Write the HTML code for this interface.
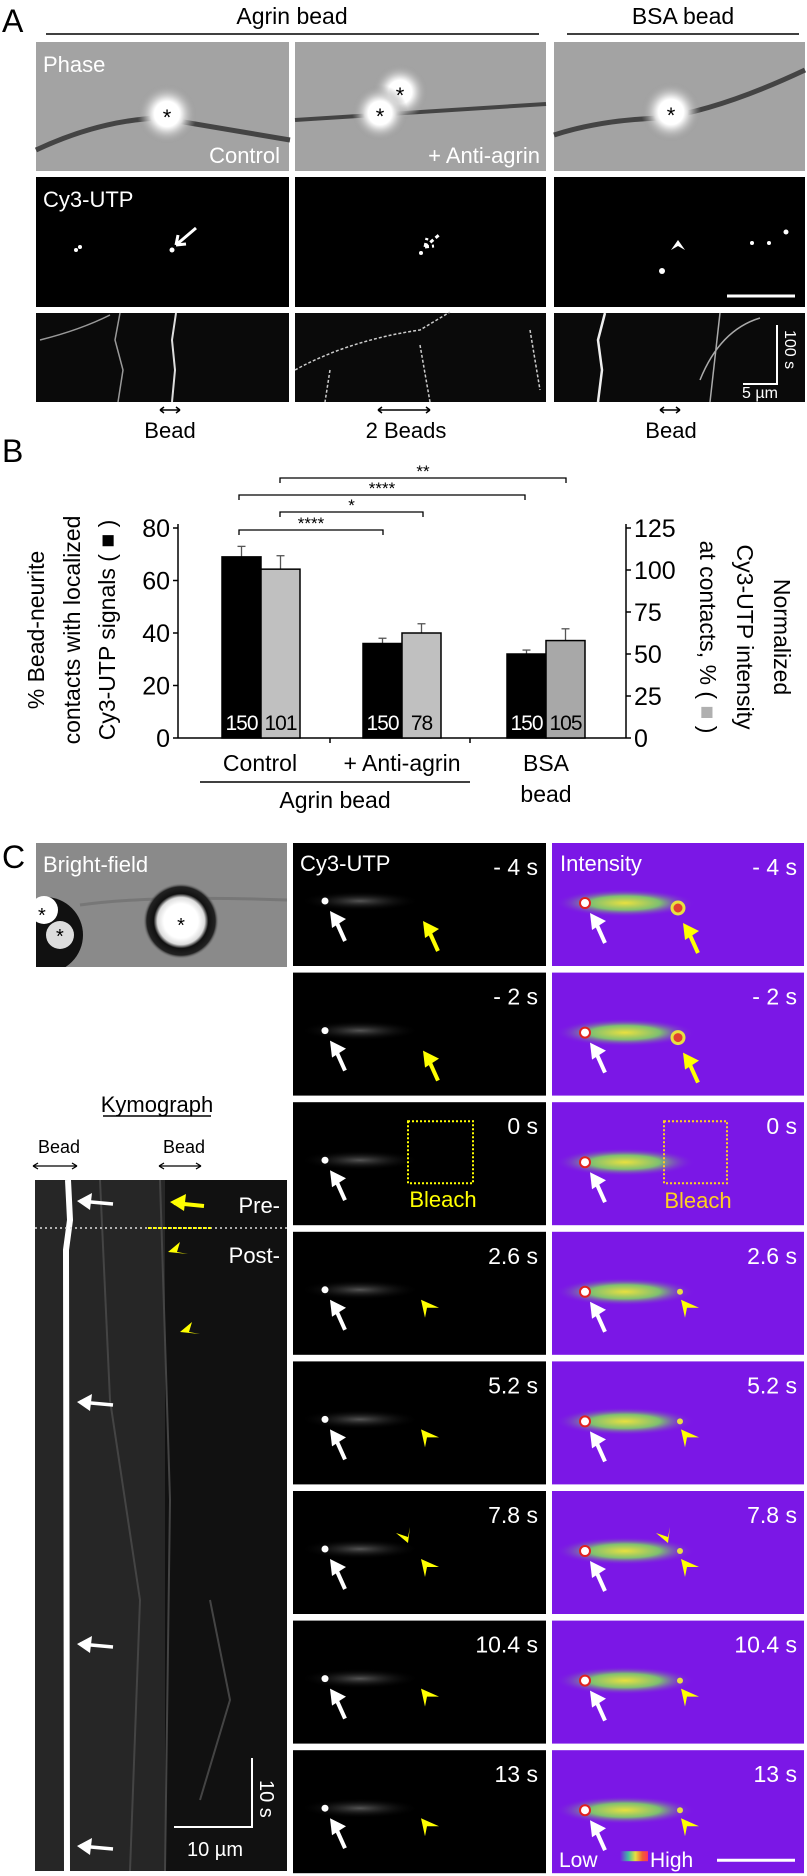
<!DOCTYPE html>
<html><head><meta charset="utf-8"><style>
html,body{margin:0;padding:0;background:#fff;}
svg{display:block;font-family:"Liberation Sans","DejaVu Sans",Arial,sans-serif;}
</style></head><body>
<svg id="fig" width="807" height="1876" viewBox="0 0 807 1876" xmlns="http://www.w3.org/2000/svg">
<defs>
<radialGradient id="halo"><stop offset="0.42" stop-color="#fff"/><stop offset="0.55" stop-color="#ddd"/><stop offset="0.75" stop-color="#bbb" stop-opacity="0.6"/><stop offset="1" stop-color="#999" stop-opacity="0"/></radialGradient>
<radialGradient id="bfbead"><stop offset="0.45" stop-color="#fff"/><stop offset="0.62" stop-color="#ddd"/><stop offset="0.72" stop-color="#111"/><stop offset="0.9" stop-color="#222"/><stop offset="1" stop-color="#8a8a8a" stop-opacity="0"/></radialGradient>
<radialGradient id="glow"><stop offset="0" stop-color="#555"/><stop offset="1" stop-color="#000" stop-opacity="0"/></radialGradient>
<radialGradient id="heat"><stop offset="0" stop-color="#e8e040"/><stop offset="0.5" stop-color="#7fc070"/><stop offset="1" stop-color="#7b17e6" stop-opacity="0"/></radialGradient>
<linearGradient id="cbar"><stop offset="0" stop-color="#7b17e6"/><stop offset="0.3" stop-color="#40c0a0"/><stop offset="0.55" stop-color="#e8e040"/><stop offset="0.8" stop-color="#f06030"/><stop offset="1" stop-color="#ff3060"/></linearGradient>
<clipPath id="bfclip"><rect x="36" y="843" width="251" height="124"/></clipPath>
</defs>

<!-- Panel A -->
<text x="2" y="32" font-size="32">A</text>
<text x="292" y="24" font-size="23" text-anchor="middle">Agrin bead</text>
<line x1="46" y1="34" x2="539" y2="34" stroke="#000" stroke-width="1.5"/>
<text x="683" y="24" font-size="23" text-anchor="middle">BSA bead</text>
<line x1="567" y1="34" x2="799" y2="34" stroke="#000" stroke-width="1.5"/>

<g>
<rect x="36" y="42" width="253" height="129" fill="#a3a3a3"/>
<path d="M36 150 Q100 120 160 118 L290 140" stroke="#444" stroke-width="5" fill="none"/>
<circle cx="167" cy="114" r="30" fill="url(#halo)"/>
<text x="167" y="125" font-size="22" text-anchor="middle">*</text>
<text x="43" y="72" font-size="22" fill="#fff">Phase</text>
<text x="280" y="163" font-size="22" fill="#fff" text-anchor="end">Control</text>
<rect x="295" y="42" width="251" height="129" fill="#a3a3a3"/>
<path d="M295 120 L546 104" stroke="#444" stroke-width="4" fill="none"/>
<circle cx="400" cy="92" r="28" fill="url(#halo)"/>
<circle cx="380" cy="113" r="28" fill="url(#halo)"/>
<text x="400" y="103" font-size="22" text-anchor="middle">*</text>
<text x="380" y="124" font-size="22" text-anchor="middle">*</text>
<text x="540" y="163" font-size="22" fill="#fff" text-anchor="end">+ Anti-agrin</text>
<rect x="554" y="42" width="251" height="129" fill="#a3a3a3"/>
<path d="M554 135 Q600 120 660 118 Q720 110 805 70" stroke="#444" stroke-width="5" fill="none"/>
<circle cx="671" cy="112" r="30" fill="url(#halo)"/>
<text x="671" y="123" font-size="22" text-anchor="middle">*</text>
</g>

<g>
<rect x="36" y="177" width="253" height="130" fill="#000"/>
<rect x="295" y="177" width="251" height="130" fill="#000"/>
<rect x="554" y="177" width="251" height="130" fill="#000"/>
<text x="43" y="207" font-size="22" fill="#fff">Cy3-UTP</text>
<circle cx="76" cy="250" r="2" fill="#fff"/><circle cx="80" cy="247" r="2" fill="#fff"/><circle cx="172" cy="250" r="2.5" fill="#fff"/>
<path d="M176 245 L196 228 M176 245 L178 235 M176 245 L186 244" stroke="#fff" stroke-width="3" fill="none"/>
<circle cx="421" cy="253" r="2" fill="#fff"/>
<path d="M425 247 L440 234 M425 247 L427 238 M425 247 L434 246" stroke="#fff" stroke-width="3" stroke-dasharray="4 3" fill="none"/>
<circle cx="662" cy="271" r="3" fill="#fff"/><circle cx="769" cy="243" r="2" fill="#fff"/><circle cx="786" cy="232" r="2.5" fill="#fff"/><circle cx="752" cy="243" r="2" fill="#fff"/>
<path d="M671 250 L678 240 L685 250 L678 246 Z" fill="#fff"/>
<line x1="727" y1="296" x2="795" y2="296" stroke="#fff" stroke-width="3"/>
</g>

<g>
<rect x="36" y="313" width="253" height="89" fill="#0a0a0a"/>
<rect x="295" y="313" width="251" height="89" fill="#0a0a0a"/>
<rect x="554" y="313" width="251" height="89" fill="#0a0a0a"/>
<path d="M176 313 L172 340 L175 370 L172 402" stroke="#ddd" stroke-width="2" fill="none"/>
<path d="M120 313 L115 340 L123 370 L118 402 M40 340 Q80 330 110 315" stroke="#999" stroke-width="1.5" fill="none"/>
<path d="M295 370 Q350 340 420 330 L450 312 M330 370 L325 402 M420 345 L430 402 M530 330 L540 390" stroke="#ccc" stroke-width="1.5" stroke-dasharray="3 2" fill="none"/>
<path d="M605 313 L598 340 L602 370 L598 402" stroke="#eee" stroke-width="2.5" fill="none"/>
<path d="M700 380 Q720 330 760 318 M720 313 L710 402" stroke="#aaa" stroke-width="1.5" fill="none"/>
<path d="M777 325 L777 384 L743 384" stroke="#fff" stroke-width="2" fill="none"/>
<text x="0" y="0" font-size="16" fill="#fff" transform="translate(785,330) rotate(90)">100 s</text>
<text x="760" y="398" font-size="16" fill="#fff" text-anchor="middle">5 µm</text>
</g>

<g font-size="22" text-anchor="middle">
<text x="170" y="438">Bead</text><text x="406" y="438">2 Beads</text><text x="671" y="438">Bead</text>
<path d="M160 410 L180 410 M160 410 l4 -3 M160 410 l4 3 M180 410 l-4 -3 M180 410 l-4 3" stroke="#000" stroke-width="1.5"/>
<path d="M378 410 L430 410 M378 410 l4 -3 M378 410 l4 3 M430 410 l-4 -3 M430 410 l-4 3" stroke="#000" stroke-width="1.5"/>
<path d="M660 410 L680 410 M660 410 l4 -3 M660 410 l4 3 M680 410 l-4 -3 M680 410 l-4 3" stroke="#000" stroke-width="1.5"/>
</g>

<!-- Panel B -->
<text x="2" y="462" font-size="32">B</text>
<g id="chart"></g>
<g font-size="23" text-anchor="middle">
<text transform="translate(44,630) rotate(-90)">% Bead-neurite</text>
<text transform="translate(80,630) rotate(-90)">contacts with localized</text>
<text transform="translate(115,630) rotate(-90)">Cy3-UTP signals ( ■ )</text>
</g>
<g font-size="23" text-anchor="middle">
<text transform="translate(774,637) rotate(90)">Normalized</text>
<text transform="translate(737,637) rotate(90)">Cy3-UTP intensity</text>
<text transform="translate(700,637) rotate(90)">at contacts, % ( <tspan fill="#b0b0b0">■</tspan> )</text>
</g>
<g font-size="23" text-anchor="middle">
<text x="260" y="771">Control</text>
<text x="402" y="771">+ Anti-agrin</text>
<text x="546" y="771">BSA</text>
<text x="546" y="802">bead</text>
<line x1="200" y1="782" x2="470" y2="782" stroke="#000" stroke-width="1.5"/>
<text x="335" y="808">Agrin bead</text>
</g>

<!-- Panel C -->
<text x="2" y="868" font-size="32">C</text>
<g>
<g clip-path="url(#bfclip)">
<rect x="36" y="843" width="251" height="124" fill="#8a8a8a"/>
<path d="M80 905 Q150 895 287 900" stroke="#777" stroke-width="3" fill="none"/>
<circle cx="45" cy="935" r="38" fill="#111"/>
<circle cx="44" cy="910" r="14" fill="#fff"/>
<circle cx="60" cy="935" r="14" fill="#ddd"/>
<circle cx="181" cy="921" r="38" fill="url(#bfbead)"/>
<text x="38" y="922" font-size="20">*</text><text x="56" y="943" font-size="20">*</text><text x="181" y="932" font-size="20" text-anchor="middle">*</text>
</g>
<text x="43" y="872" font-size="22" fill="#fff">Bright-field</text>
</g>
<g id="rows"></g>

<g>
<text x="157" y="1112" font-size="22" text-anchor="middle">Kymograph</text>
<line x1="103" y1="1116" x2="211" y2="1116" stroke="#000" stroke-width="1.5"/>
<text x="59" y="1153" font-size="18" text-anchor="middle">Bead</text>
<text x="184" y="1153" font-size="18" text-anchor="middle">Bead</text>
<path d="M33 1166 L77 1166 M33 1166 l5 -3 M33 1166 l5 3 M77 1166 l-5 -3 M77 1166 l-5 3" stroke="#000" stroke-width="1.3"/>
<path d="M159 1166 L201 1166 M159 1166 l5 -3 M159 1166 l5 3 M201 1166 l-5 -3 M201 1166 l-5 3" stroke="#000" stroke-width="1.3"/>
<rect x="35" y="1180" width="252" height="691" fill="#111"/>
<rect x="35" y="1180" width="130" height="691" fill="#262626"/>
<path d="M100 1180 L110 1400 L140 1600 L130 1871 M160 1180 L170 1500 L165 1871 M210 1600 L230 1700 L200 1800" stroke="#444" stroke-width="2" fill="none"/>
<path d="M68 1180 L70 1220 L66 1250 L67 1871" stroke="#fff" stroke-width="6" fill="none"/>
<line x1="35" y1="1228" x2="287" y2="1228" stroke="#ddd" stroke-width="1.5" stroke-dasharray="2 3"/>
<line x1="148" y1="1228" x2="212" y2="1228" stroke="#ff0" stroke-width="2" stroke-dasharray="3 2"/>
<text x="280" y="1213" font-size="22" fill="#fff" text-anchor="end">Pre-</text>
<text x="280" y="1263" font-size="22" fill="#fff" text-anchor="end">Post-</text>
<path d="M252 1758 L252 1827 L174 1827" stroke="#fff" stroke-width="2" fill="none"/>
<text transform="translate(260,1780) rotate(90)" font-size="20" fill="#fff">10 s</text>
<text x="215" y="1856" font-size="20" fill="#fff" text-anchor="middle">10 µm</text>
</g>
<g id="kymarrows"></g>
</svg>
<script>
// ---- Chart data (panel B) ----
const categories = ["Control", "+ Anti-agrin", "BSA bead"];
const pctValues = [69, 36, 32];        // left axis, %
const pctErr = [4, 2, 1.5];
const intensityValues = [100.5, 62.5, 58]; // right axis, %
const intensityErr = [8, 5.5, 7];
const nBlack = ["150", "150", "150"];
const nGray = ["101", "78", "105"];
const leftTicks = [0, 20, 40, 60, 80];
const rightTicks = [0, 25, 50, 75, 100, 125];
const sigLabels = ["**", "****", "*", "****"];

const NS = "http://www.w3.org/2000/svg";
function mk(tag, attrs, parent) { const e = document.createElementNS(NS, tag); for (const k in attrs) e.setAttribute(k, attrs[k]); parent.appendChild(e); return e; }
const chart = document.getElementById("chart");
const y0 = 738, leftPx = 210 / 80, rightPx = 210 / 125;
function yL(v) { return y0 - v * leftPx; }
function yR(v) { return y0 - v * rightPx; }
const groupCenters = [261, 402, 546];
function xc(i) { return groupCenters[i]; }
const bw = 39;

let ax = mk("line", { x1: 178, y1: 524, x2: 178, y2: y0, stroke: "#000", "stroke-width": 1.5 }, chart);


let axb = mk("line", { x1: 178, y1: y0, x2: 626, y2: y0, stroke: "#000", "stroke-width": 1.5 }, chart);


let axr = mk("line", { x1: 626, y1: 524, x2: 626, y2: y0, stroke: "#000", "stroke-width": 1.5 }, chart);


mk("line", { x1: 330, y1: y0, x2: 330, y2: y0 + 5, stroke: "#000", "stroke-width": 1.5 }, chart);
mk("line", { x1: 470, y1: y0, x2: 470, y2: y0 + 5, stroke: "#000", "stroke-width": 1.5 }, chart);
leftTicks.forEach(v => {
  mk("line", { x1: 173, y1: yL(v), x2: 178, y2: yL(v), stroke: "#000", "stroke-width": 1.5 }, chart);
  const t = mk("text", { x: 170, y: yL(v) + 9, "font-size": 25, "text-anchor": "end" }, chart);
  t.textContent = v;
  
  
});
rightTicks.forEach(v => {
  mk("line", { x1: 626, y1: yR(v), x2: 631, y2: yR(v), stroke: "#000", "stroke-width": 1.5 }, chart);
  const t = mk("text", { x: 634, y: yR(v) + 9, "font-size": 25 }, chart);
  t.textContent = v;
  
  
});
categories.forEach((c, i) => {
  const xb = xc(i) - bw, xg = xc(i);
  const yb = yL(pctValues[i]), yg = yR(intensityValues[i]);
  mk("line", { x1: xb + bw / 2, y1: yb, x2: xb + bw / 2, y2: yL(pctValues[i] + pctErr[i]), stroke: "#555", "stroke-width": 1.3 }, chart);
  mk("line", { x1: xb + bw / 2 - 4, y1: yL(pctValues[i] + pctErr[i]), x2: xb + bw / 2 + 4, y2: yL(pctValues[i] + pctErr[i]), stroke: "#555", "stroke-width": 1.3 }, chart);
  mk("line", { x1: xg + bw / 2, y1: yg, x2: xg + bw / 2, y2: yR(intensityValues[i] + intensityErr[i]), stroke: "#555", "stroke-width": 1.3 }, chart);
  mk("line", { x1: xg + bw / 2 - 4, y1: yR(intensityValues[i] + intensityErr[i]), x2: xg + bw / 2 + 4, y2: yR(intensityValues[i] + intensityErr[i]), stroke: "#555", "stroke-width": 1.3 }, chart);
  const b = mk("rect", { x: xb, y: yb, width: bw, height: y0 - yb, fill: "#000", stroke: "#000", "stroke-width": 1.5 }, chart);
  
  
  const g = mk("rect", { x: xg, y: yg, width: bw, height: y0 - yg, fill: i === 2 ? "#a8a8a8" : "#c0c0c0", stroke: "#000", "stroke-width": 1.5 }, chart);
  
  
  const t1 = mk("text", { x: xb + bw / 2, y: y0 - 8, "font-size": 21, fill: "#fff", "text-anchor": "middle", "letter-spacing": "-1" }, chart);
  t1.textContent = nBlack[i];
  
  
  const t2 = mk("text", { x: xg + bw / 2, y: y0 - 8, "font-size": 21, fill: "#000", "text-anchor": "middle", "letter-spacing": "-1" }, chart);
  t2.textContent = nGray[i];
  
  
});
const br = [[280, 566, 478], [239, 525, 495], [280, 423, 512], [239, 383, 530]];
br.forEach((b, i) => {
  mk("path", { d: `M${b[0]} ${b[2] + 5} L${b[0]} ${b[2]} L${b[1]} ${b[2]} L${b[1]} ${b[2] + 5}`, stroke: "#000", "stroke-width": 1.3, fill: "none" }, chart);
  const t = mk("text", { x: (b[0] + b[1]) / 2, y: b[2] - 1, "font-size": 17, "text-anchor": "middle" }, chart);
  t.textContent = sigLabels[i];
  
  
});

// ---- Panel C rows ----
const times = ["- 4 s", "- 2 s", "0 s", "2.6 s", "5.2 s", "7.8 s", "10.4 s", "13 s"];
const rows = document.getElementById("rows");
function arrow(p, x, y, color) {
  mk("path", { d: `M${x + 6} ${y + 10} L${x + 15} ${y + 30}`, stroke: color, "stroke-width": 4, fill: "none" }, p);
  mk("path", { d: `M${x} ${y} L${x + 16} ${y + 8} L${x + 2} ${y + 17} Z`, fill: color }, p);
}
function arrowhead(p, x, y, color, down) {
  if (down) mk("path", { d: `M${x} ${y} L${x - 12} ${y - 10} L${x} ${y - 6} L${x + 2} ${y - 16} Z`, fill: color }, p);
  else mk("path", { d: `M${x} ${y} L${x + 18} ${y + 8} L${x + 6} ${y + 8} L${x + 4} ${y + 18} Z`, fill: color }, p);
}
times.forEach((t, i) => {
  const top = 843 + i * 129.6, h = 123;
  const g = mk("g", {}, rows);
  
  
  mk("rect", { x: 293, y: top, width: 253, height: h, fill: "#000" }, g);
  mk("rect", { x: 552, y: top, width: 252, height: h, fill: "#7b17e6" }, g);
  mk("ellipse", { cx: 360, cy: top + 58, rx: 60, ry: 10, fill: "url(#glow)" }, g);
  mk("ellipse", { cx: 625, cy: top + 60, rx: 70, ry: 14, fill: "url(#heat)" }, g);
  mk("circle", { cx: 325, cy: top + 58, r: 3.5, fill: "#fff" }, g);
  mk("circle", { cx: 585, cy: top + 60, r: 5, fill: "#fff", stroke: "#e02020", "stroke-width": 2 }, g);
  arrow(g, 330, top + 68, "#fff");
  arrow(g, 590, top + 70, "#fff");
  const a = mk("text", { x: 538, y: top + 32, "font-size": 23, fill: "#fff", "text-anchor": "end" }, g);
  a.textContent = t;
  const b = mk("text", { x: 797, y: top + 32, "font-size": 23, fill: "#fff", "text-anchor": "end" }, g);
  b.textContent = t;
  if (i < 2) {
    mk("circle", { cx: 678, cy: top + 65, r: 6, fill: "#e04030", stroke: "#e8e040", "stroke-width": 3 }, g);
    arrow(g, 423, top + 78, "#ff0");
    arrow(g, 683, top + 80, "#ff0");
  } else if (i === 2) {
    mk("rect", { x: 408, y: top + 19, width: 65, height: 62, fill: "none", stroke: "#ff0", "stroke-width": 2, "stroke-dasharray": "2 2" }, g);
    mk("rect", { x: 664, y: top + 19, width: 63, height: 62, fill: "none", stroke: "#ffd020", "stroke-width": 2, "stroke-dasharray": "2 2" }, g);
    const c1 = mk("text", { x: 443, y: top + 105, "font-size": 22, fill: "#ff0", "text-anchor": "middle" }, g); c1.textContent = "Bleach";
    const c2 = mk("text", { x: 698, y: top + 106, "font-size": 22, fill: "#ffd020", "text-anchor": "middle" }, g); c2.textContent = "Bleach";
  } else {
    mk("circle", { cx: 680, cy: top + 60, r: 3, fill: "#e8e040" }, g);
    arrowhead(g, 421, top + 68, "#ff0", false);
    arrowhead(g, 681, top + 68, "#ff0", false);
    if (i === 5) { arrowhead(g, 408, top + 52, "#ff0", true); arrowhead(g, 668, top + 52, "#ff0", true); }
  }
  if (i === 0) {
    const l1 = mk("text", { x: 300, y: top + 28, "font-size": 22, fill: "#fff" }, g); l1.textContent = "Cy3-UTP";
    const l2 = mk("text", { x: 560, y: top + 28, "font-size": 22, fill: "#fff" }, g); l2.textContent = "Intensity";
  }
  if (i === 7) {
    const lo = mk("text", { x: 559, y: top + 117, "font-size": 21, fill: "#fff" }, g); lo.textContent = "Low";
    mk("rect", { x: 620, y: top + 101, width: 28, height: 10, fill: "url(#cbar)" }, g);
    const hi = mk("text", { x: 650, y: top + 117, "font-size": 21, fill: "#fff" }, g); hi.textContent = "High";
    mk("line", { x1: 717, y1: top + 110, x2: 795, y2: top + 110, stroke: "#fff", "stroke-width": 3 }, g);
  }
});
const ka = document.getElementById("kymarrows");
[1201, 1402, 1644, 1846].forEach(y => {
  mk("path", { d: `M80 ${y} L113 ${y + 3}`, stroke: "#fff", "stroke-width": 3.5 }, ka);
  mk("path", { d: `M77 ${y} L92 ${y - 8} L90 ${y + 9} Z`, fill: "#fff" }, ka);
});
mk("path", { d: "M174 1203 L204 1206", stroke: "#ff0", "stroke-width": 4 }, ka);
mk("path", { d: "M170 1202 L186 1194 L184 1211 Z", fill: "#ff0" }, ka);
[[168, 1252], [180, 1332]].forEach(p => {
  mk("path", { d: `M${p[0]} ${p[1]} L${p[0] + 12} ${p[1] - 10} L${p[0] + 9} ${p[1]} L${p[0] + 20} ${p[1] + 2} Z`, fill: "#ff0" }, ka);
});
</script>
</body></html>
